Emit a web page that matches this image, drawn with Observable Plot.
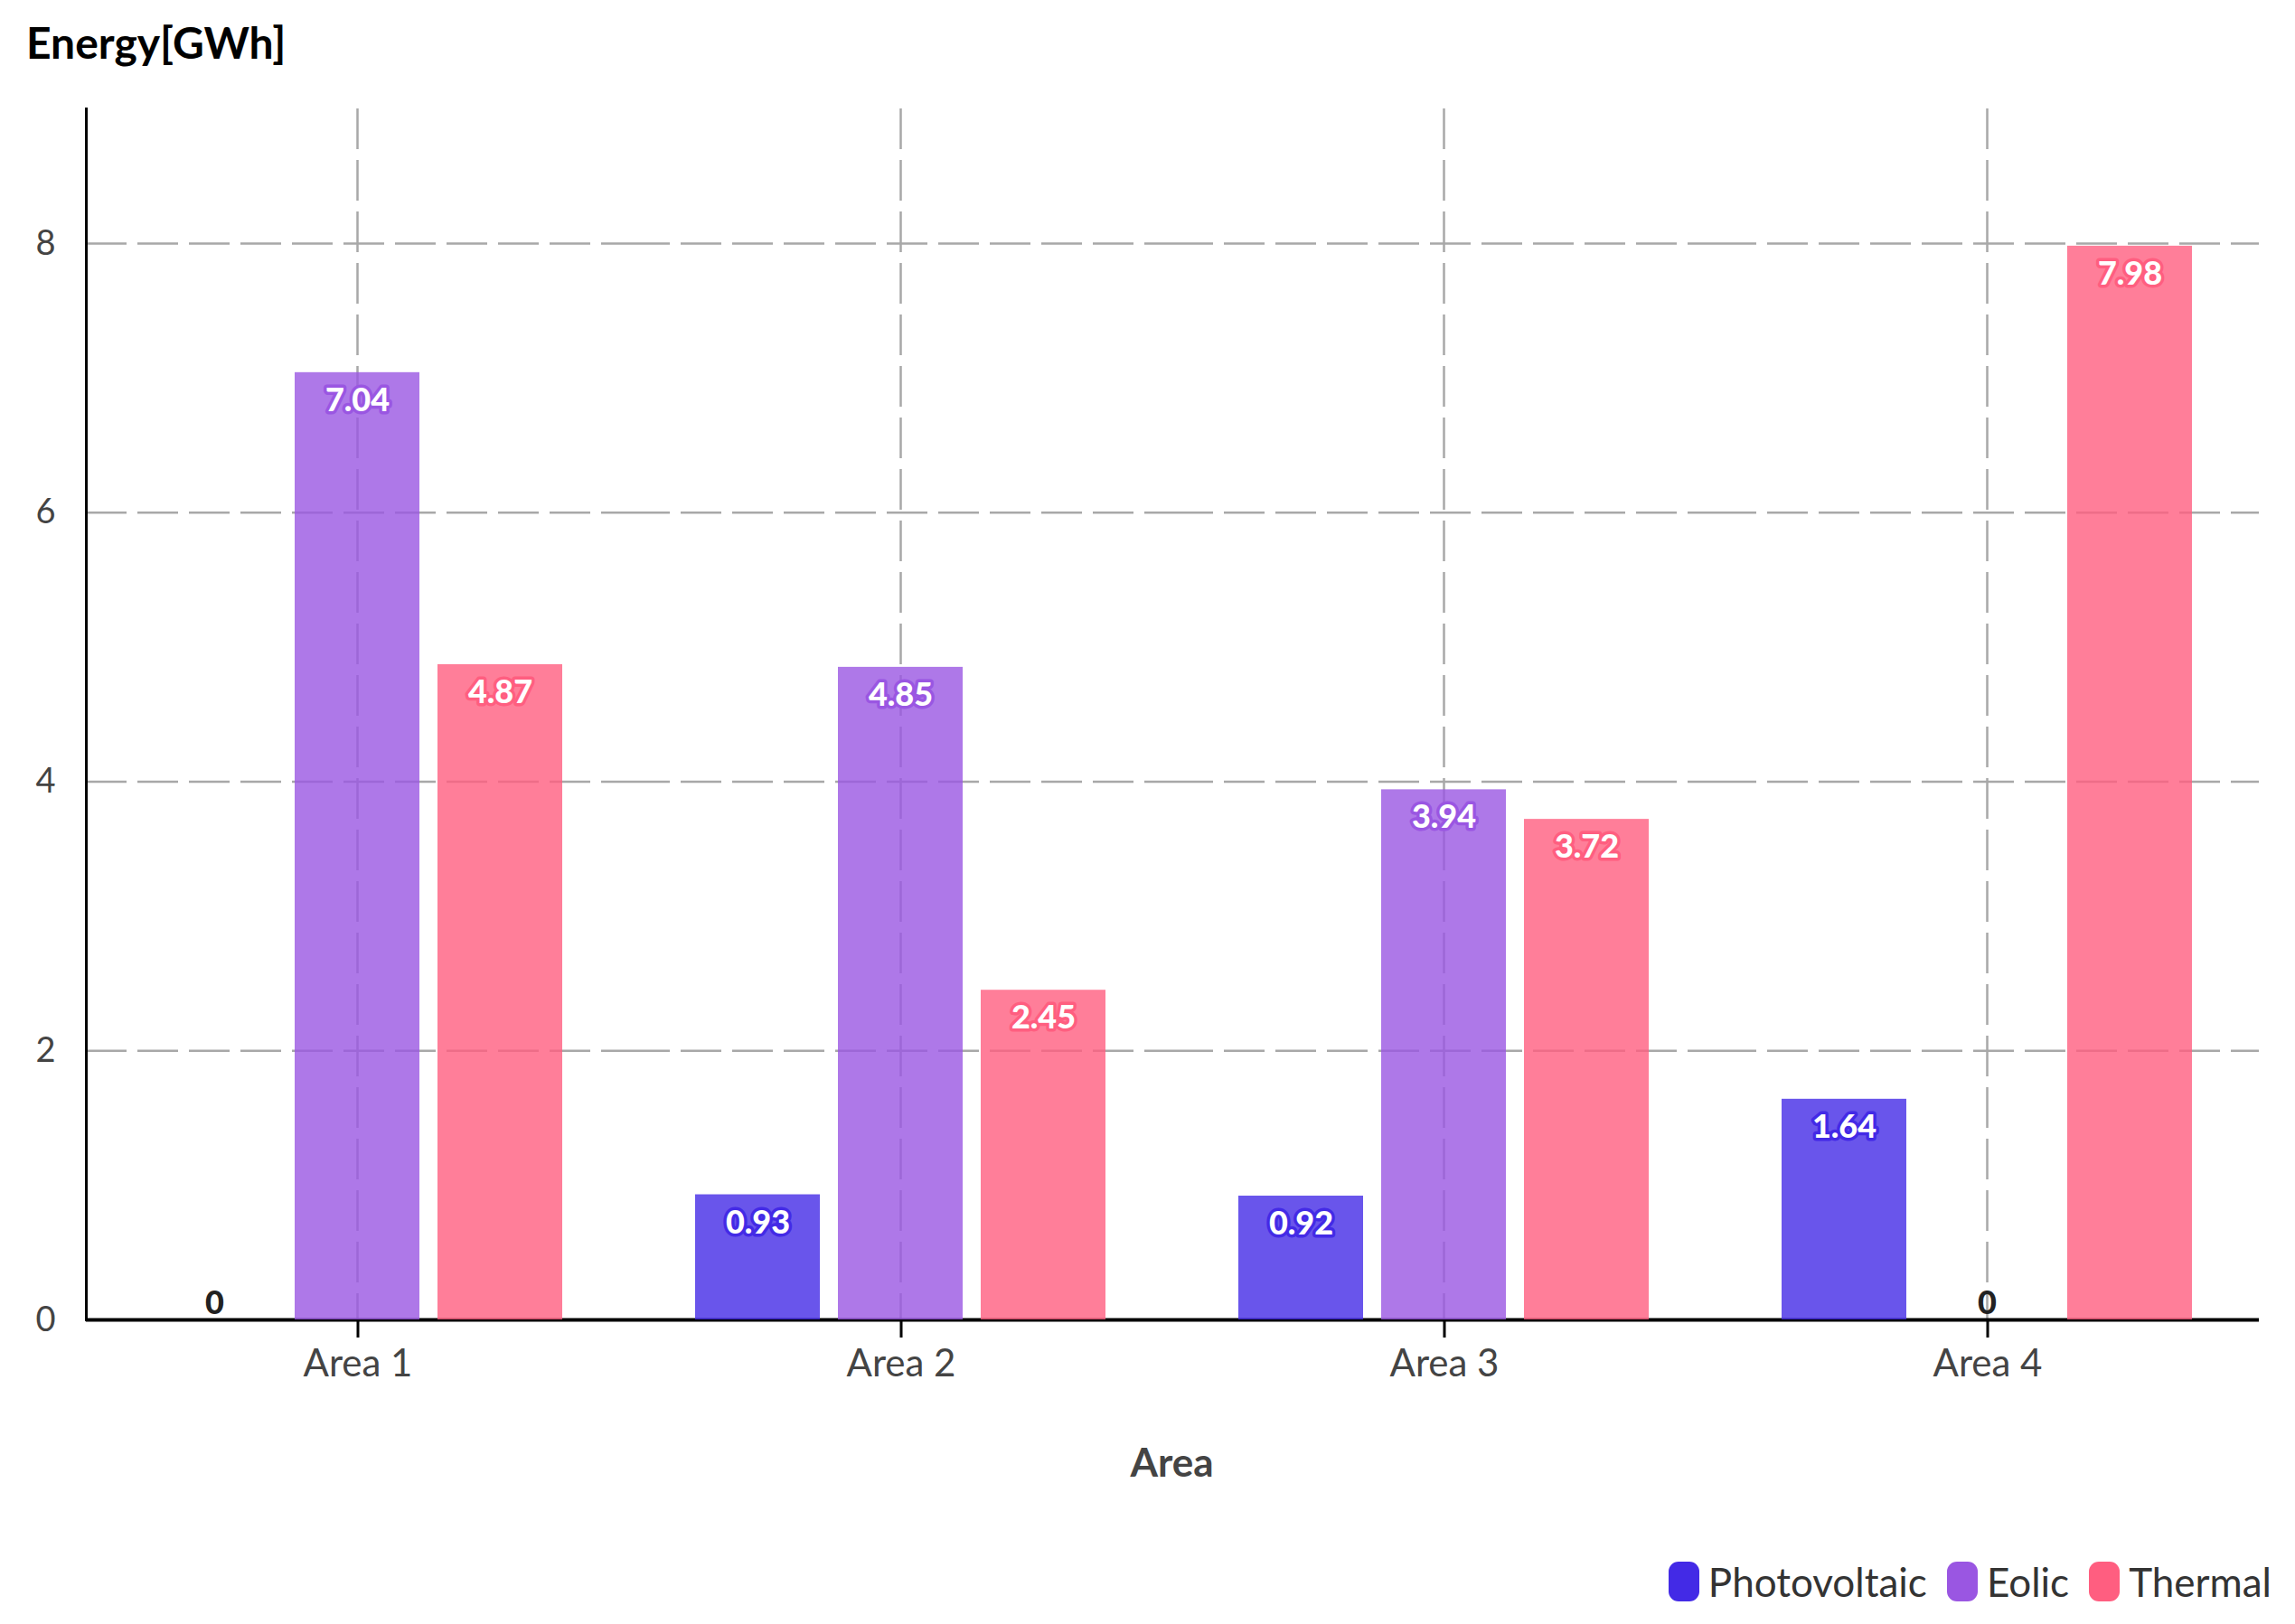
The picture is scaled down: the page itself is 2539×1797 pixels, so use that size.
<!DOCTYPE html>
<html>
<head>
<meta charset="utf-8">
<script src="https://cdn.jsdelivr.net/npm/d3@7"></script>
<script src="https://cdn.jsdelivr.net/npm/@observablehq/plot@0.6"></script>
<style>
  html, body { margin: 0; padding: 0; background: #fff; }
  body { width: 2539px; height: 1797px; position: relative; overflow: hidden; font-family: Lato, "Open Sans", sans-serif; }
  #title { position: absolute; left: 29px; top: 19px; font-size: 48px; font-weight: 700; color: #000; line-height: 56px; }
  #chart { position: absolute; left: 0; top: 80px; }
  #xlabel { position: absolute; left: 93px; width: 2407px; top: 1589px; text-align: center; font-size: 44px; font-weight: 700; color: #444; line-height: 56px; }
  #legend { position: absolute; right: 26px; top: 1722px; display: flex; align-items: center; font-size: 44px; color: #333; line-height: 56px; }
  .item { display: flex; align-items: center; margin-left: 22px; }
  .sw { width: 34px; height: 44px; border-radius: 11px; margin-right: 10px; }
</style>
</head>
<body>
<div id="title">Energy[GWh]</div>
<div id="chart"></div>
<div id="xlabel">Area</div>
<div id="legend"></div>
<script>
const areas = ["Area 1", "Area 2", "Area 3", "Area 4"];
const series = ["Photovoltaic", "Eolic", "Thermal"];
const photovoltaic = [0, 0.93, 0.92, 1.64];
const eolic = [7.04, 4.85, 3.94, 0];
const thermal = [4.87, 2.45, 3.72, 7.98];
const yTicks = [0, 2, 4, 6, 8];
const colors = ["#432ae6", "#9a56e2", "#ff5e80"];

const values = [photovoltaic, eolic, thermal];
const data = [];
areas.forEach((a, i) => series.forEach((s, j) => data.push({area: a, type: s, value: values[j][i]})));

const dash = "45,12";
const gridColor = "#a8a8a8";

const plot = Plot.plot({
  width: 2539,
  height: 1600,
  marginLeft: 93,
  marginRight: 39,
  marginTop: 40,
  marginBottom: 220,
  style: {fontFamily: "Lato, 'Open Sans', sans-serif", background: "transparent"},
  fx: {domain: areas, padding: 0, label: null},
  x: {domain: series, paddingInner: 0.125, paddingOuter: 0.453, axis: null},
  y: {domain: [0, 9], axis: null, label: null},
  color: {domain: series, range: colors},
  marks: [
    Plot.ruleY(yTicks.filter(d => d > 0), {stroke: gridColor, strokeWidth: 2.5, strokeDasharray: dash}),
    Plot.ruleX(areas, {fx: d => d, x: () => "Eolic", stroke: gridColor, strokeWidth: 2.5, strokeDasharray: dash}),
    Plot.ruleY([0], {stroke: "#000", strokeWidth: 4}),
    Plot.barY(data, {fx: "area", x: "type", y: "value", fill: "type", fillOpacity: 0.8}),
    Plot.frame({anchor: "left", facetAnchor: "left", stroke: "#000", strokeWidth: 3}),
    Plot.axisY({ticks: yTicks, tickSize: 0, tickPadding: 34, fontSize: 38, fill: "#444", label: null, tickFormat: d3.format("d")}),
    Plot.axisFx({anchor: "bottom", tickSize: 20, tickPadding: 13, fontSize: 42, fill: "#444", stroke: "#000", strokeWidth: 3, label: null}),
    Plot.text(data.filter(d => d.value > 0), {
      fx: "area", x: "type", y: "value", text: d => d3.format(".2f")(d.value),
      dy: 31, fill: "#fff", stroke: "type", strokeWidth: 7, paintOrder: "stroke",
      fontSize: 36, fontWeight: 900
    }),
    Plot.text(data.filter(d => d.value === 0), {
      fx: "area", x: "type", y: "value", text: d => String(d.value),
      dy: -18, fill: "#222", fontSize: 36, fontWeight: 900
    })
  ]
});
document.getElementById("chart").appendChild(plot);

const legend = document.getElementById("legend");
series.forEach((s, i) => {
  const item = document.createElement("div");
  item.className = "item";
  const sw = document.createElement("div");
  sw.className = "sw";
  sw.style.background = colors[i];
  const t = document.createElement("span");
  t.textContent = s;
  item.appendChild(sw);
  item.appendChild(t);
  legend.appendChild(item);
});
</script>
</body>
</html>
